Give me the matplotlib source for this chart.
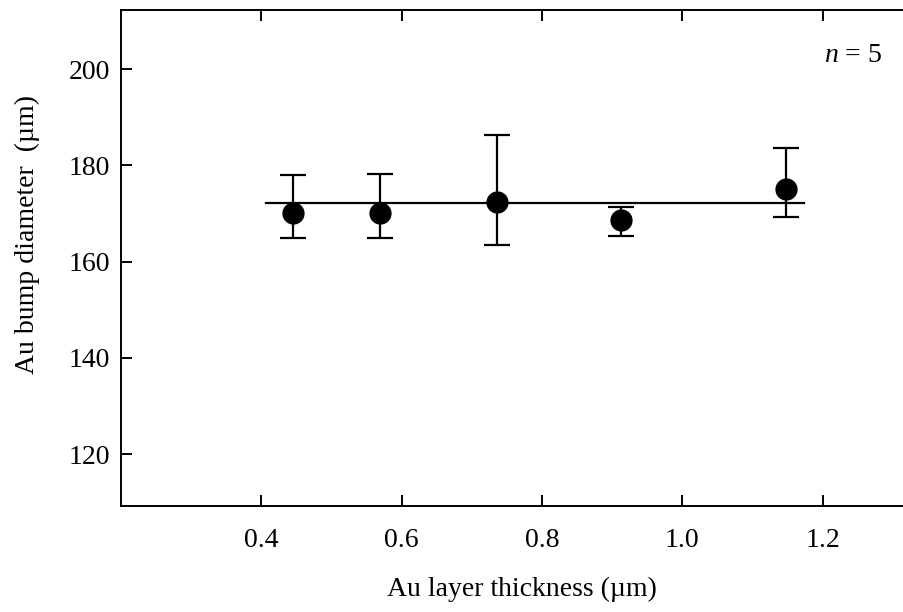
import matplotlib

matplotlib.use("Agg")
import matplotlib.pyplot as plt
import numpy as np

# Au layer thickness (um) and bump diameter (um) with asymmetric spread
thickness = [0.445, 0.569, 0.736, 0.913, 1.148]
diameter = [170.0, 170.0, 172.3, 168.6, 175.0]
err_low = [5.0, 5.0, 8.9, 3.2, 5.8]
err_high = [8.1, 8.2, 14.0, 2.7, 8.7]

# mean level line
mean_x = [0.407, 1.174]
mean_y = [172.1, 172.1]

x_ticks = [0.4, 0.6, 0.8, 1.0, 1.2]
y_ticks = [120, 140, 160, 180, 200]

plt.rcParams["font.family"] = ["Liberation Serif", "DejaVu Serif"]
plt.rcParams["mathtext.fontset"] = "custom"
plt.rcParams["mathtext.it"] = "Liberation Serif:italic"
plt.rcParams["mathtext.rm"] = "Liberation Serif"

fig = plt.figure(figsize=(9.04, 6.12), dpi=100)
ax = fig.add_axes([0.1338, 0.1732, 0.8772, 0.8105])

ax.plot(mean_x, mean_y, color="black", linewidth=1.6, zorder=2)
ax.errorbar(
    thickness,
    diameter,
    yerr=np.array([err_low, err_high]),
    fmt="o",
    color="black",
    markersize=15,
    elinewidth=1.6,
    capsize=9.5,
    capthick=1.6,
    zorder=3,
)

ax.set_xlim(0.2, 1.33)
ax.set_ylim(109.2, 212.3)
ax.set_xticks(x_ticks)
ax.set_xticklabels([f"{v:.1f}" for v in x_ticks])
ax.set_yticks(y_ticks)

ax.tick_params(
    direction="in", length=8, width=1.4, labelsize=20,
    top=True, right=True,
)
ax.tick_params(axis="x", pad=16)
ax.tick_params(axis="y", pad=8)
for spine in ax.spines.values():
    spine.set_linewidth(1.4)
# the right frame falls just outside the picture, only its ticks show
ax.spines["right"].set_visible(False)

ax.set_xlabel("Au layer thickness (µm)", fontsize=20)
ax.xaxis.set_label_coords(0.506, -0.143)
ax.set_ylabel("Au bump diameter  (µm)", fontsize=20)
ax.yaxis.set_label_coords(-0.102, 0.548)

ax.text(0.96, 0.909, r"$n$ = 5", transform=ax.transAxes, fontsize=20,
        ha="right", va="center")

fig.savefig("out.png", dpi=100)
